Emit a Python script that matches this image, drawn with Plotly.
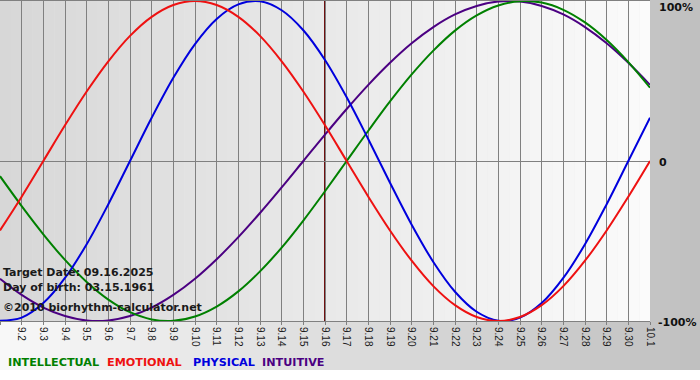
import plotly.graph_objects as go

days = ["9.1", "9.2", "9.3", "9.4", "9.5", "9.6", "9.7", "9.8", "9.9", "9.10",
        "9.11", "9.12", "9.13", "9.14", "9.15", "9.16", "9.17", "9.18", "9.19", "9.20",
        "9.21", "9.22", "9.23", "9.24", "9.25", "9.26", "9.27", "9.28", "9.29", "9.30", "10.1"]

physical = [-99.8, -97.9, -88.8, -73.1, -52.0, -27.0, 0.0, 27.0, 52.0, 73.1, 88.8,
            97.9, 99.8, 94.2, 81.7, 63.1, 39.8, 13.6, -13.6, -39.8, -63.1, -81.7,
            -94.2, -99.8, -97.9, -88.8, -73.1, -52.0, -27.0, 0.0, 27.0]
emotional = [-43.4, -22.3, 0.0, 22.3, 43.4, 62.3, 78.2, 90.1, 97.5, 100.0, 97.5,
             90.1, 78.2, 62.3, 43.4, 22.3, 0.0, -22.3, -43.4, -62.3, -78.2, -90.1,
             -97.5, -100.0, -97.5, -90.1, -78.2, -62.3, -43.4, -22.3, 0.0]
intellectual = [-9.5, -28.2, -45.8, -61.8, -75.6, -86.6, -94.5, -99.0, -99.9, -97.2,
                -91.0, -81.5, -69.0, -54.1, -37.2, -18.9, 0.0, 18.9, 37.2, 54.1, 69.0,
                81.5, 91.0, 97.2, 99.9, 99.0, 94.5, 86.6, 75.6, 61.8, 45.8]
intuitive = [-73.6, -83.7, -91.6, -96.9, -99.7, -99.7, -96.9, -91.6, -83.7, -73.6,
             -61.4, -47.6, -32.5, -16.5, 0.0, 16.5, 32.5, 47.6, 61.4, 73.6, 83.7,
             91.6, 96.9, 99.7, 99.7, 96.9, 91.6, 83.7, 73.6, 61.4, 47.6]

target_day = "9.16"
info_lines = ["Target Date: 09.16.2025", "Day of birth: 03.15.1961",
              "©2010 biorhythm-calculator.net"]
legend_names = ["INTELLECTUAL", "EMOTIONAL", "PHYSICAL", "INTUITIVE"]
y_labels = ["100%", "0", "-100%"]

W, H = 700, 380
ML, MR, MT, MB = 0, 50, 1, 59
PW = W - ML - MR
PH = H - MT - MB


def px_x(px):
    return (px - ML) / PW


def px_y(py):
    return (H - MB - py) / PH


colors = {"INTELLECTUAL": "#008000", "EMOTIONAL": "#ee1111",
          "PHYSICAL": "#0000dd", "INTUITIVE": "#4b0082"}

xs = list(range(len(days)))
fig = go.Figure()
series = [("INTUITIVE", intuitive), ("INTELLECTUAL", intellectual),
          ("PHYSICAL", physical), ("EMOTIONAL", emotional)]
for name, vals in series:
    fig.add_trace(go.Scatter(x=xs, y=vals, mode="lines", name=name,
                             line=dict(color=colors[name], width=2, shape="spline"),
                             showlegend=False, hoverinfo="skip"))

shapes = []
# outer gradient (paper background)
n_out = 70
for i in range(n_out):
    c = int(round(248 - (248 - 192) * (i + 0.5) / n_out))
    shapes.append(dict(type="rect", xref="paper", yref="paper",
                       x0=px_x(i * W / n_out), x1=px_x((i + 1) * W / n_out + 0.5),
                       y0=px_y(370), y1=px_y(-1), line=dict(width=0),
                       fillcolor=f"rgb({c},{c},{c})", layer="below"))
# plot area gradient
n_in = 60
span = len(days) - 1
for i in range(n_in):
    c = int(round(215 - (215 - 251) * (i + 0.5) / n_in))
    shapes.append(dict(type="rect", xref="x", yref="paper",
                       x0=i * span / n_in, x1=(i + 1) * span / n_in + 0.02,
                       y0=0, y1=1, line=dict(width=0),
                       fillcolor=f"rgb({c},{c},{c})", layer="below"))
# target date line
ti = days.index(target_day)
shapes.append(dict(type="line", xref="x", yref="paper", x0=ti, x1=ti, y0=0, y1=1,
                   line=dict(color="#6e0f0f", width=2), layer="between"))

annotations = []
for txt, py in zip(info_lines, [272, 287.5, 307]):
    annotations.append(dict(text=txt, xref="paper", yref="paper", x=px_x(1), y=px_y(py),
                            xanchor="left", yanchor="middle", showarrow=False,
                            font=dict(family="DejaVu Sans", size=11, color="#1a1a1a",
                                      weight="bold")))
for name, lx in zip(legend_names, [7, 106, 192, 261]):
    annotations.append(dict(text=name, xref="paper", yref="paper", x=px_x(lx - 1),
                            y=px_y(362), xanchor="left", yanchor="middle",
                            showarrow=False,
                            font=dict(family="DejaVu Sans", size=11.2,
                                      color=colors[name], weight="bold")))
for txt, py, dx in zip(y_labels, [7.5, 162.5, 322], [7, 7, 6]):
    annotations.append(dict(text=txt, xref="paper", yref="paper", x=1, y=px_y(py),
                            xanchor="left", yanchor="middle", xshift=dx,
                            showarrow=False,
                            font=dict(family="DejaVu Sans", size=11, color="#111111",
                                      weight="bold")))

fig.update_layout(
    template="none",
    width=W, height=H, autosize=False,
    margin=dict(l=ML, r=MR, t=MT, b=MB, pad=0),
    paper_bgcolor="white", plot_bgcolor="rgba(0,0,0,0)",
    shapes=shapes, annotations=annotations, showlegend=False,
    xaxis=dict(range=[0, span], tickvals=xs, ticktext=days, tickangle=90,
               showgrid=True, gridcolor="#808080", gridwidth=1,
               ticks="outside", ticklen=3, tickcolor="#808080",
               showline=True, linecolor="#808080", linewidth=1, mirror=True,
               zeroline=False, automargin=False, fixedrange=True,
               tickfont=dict(family="Liberation Sans", size=10, color="#1a1a1a")),
    yaxis=dict(range=[-100, 100], showgrid=False, showticklabels=False,
               zeroline=True, zerolinecolor="#808080", zerolinewidth=1,
               showline=False, ticks="", automargin=False, fixedrange=True),
)

fig.write_html("out.html", config={"displayModeBar": False},
               post_script="document.body.style.margin='0';document.body.style.padding='0';")
